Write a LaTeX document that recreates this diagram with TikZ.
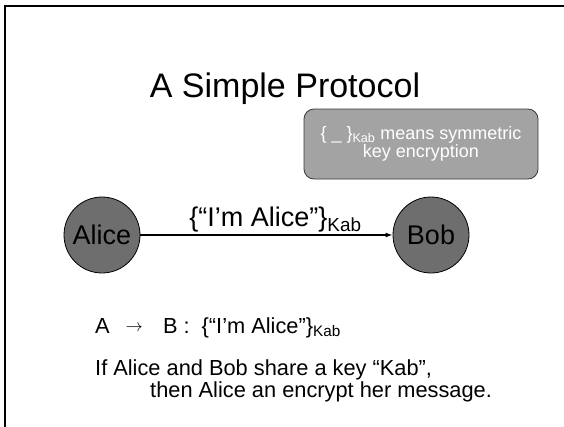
\documentclass[tikz,border=0pt]{standalone}
\usepackage{fontspec}
\setmainfont{Liberation Sans}
\usetikzlibrary{arrows.meta, positioning}
\definecolor{partyfill}{HTML}{6E6E6E}
\definecolor{notefill}{HTML}{A3A3A3}
\definecolor{noteedge}{HTML}{3A3A3A}
\newcommand\fsz[1]{\fontsize{#1}{#1}\selectfont}
\tikzset{
  party/.style  ={circle, draw=black, thick, fill=partyfill, minimum size=76pt,
                  inner sep=0pt, font=\fsz{27}},
  keynote/.style={draw=noteedge, thick, fill=notefill, rounded corners=10pt,
                  minimum width=234pt, minimum height=70pt, align=center,
                  text=white, font=\fsz{18}, inner sep=2pt},
  msg/.style    ={-{Latex[length=7pt,width=5pt]}, line width=1.3pt},
  caption/.style={anchor=base west, font=\fsz{21.8}, inner sep=0pt}
}

\begin{document}
\begin{tikzpicture}[x=1pt, y=-1pt]
  \useasboundingbox (0,0) rectangle (564,426);
  % slide frame
  \draw[line width=2pt] (5,440) -- (5,6) -- (580,6);

  \node[anchor=base, font=\fsz{34}] (title) at (285,97) {A Simple Protocol};
  \node[keynote] (key) at (421,144)
    {\{ \_ \}\textsubscript{Kab} means symmetric\\key encryption};

  \node[party] (alice) at (102,235) {Alice};
  \node[party] (bob)   at (431,235) {Bob};
  \draw[msg] (alice) -- node[above, inner sep=2pt, xshift=9pt, font=\fsz{27}]
    {\{“I’m Alice”\}\textsubscript{Kab}} (bob);

  \node[caption] (rule)   at (95,333)
    {A\hspace{16pt}\raisebox{1.5pt}{\fsz{16}$\rightarrow$}\hspace{20pt}B :\hspace{12pt}\{“I’m Alice”\}\textsubscript{Kab}};
  \node[caption] (share)  at (95,375) {If Alice and Bob share a key “Kab”,};
  \node[caption] (thenln) at (150,397) {then Alice an encrypt her message.};
\end{tikzpicture}
\end{document}
